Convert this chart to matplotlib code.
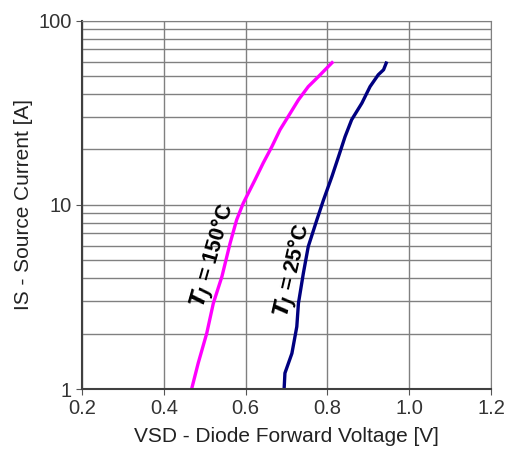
import matplotlib.pyplot as plt
import numpy as np

plt.rcParams['font.family'] = ['Liberation Sans', 'DejaVu Sans']

# T_J = 150 C curve
v_150 = [0.468, 0.484, 0.505, 0.521, 0.542, 0.562, 0.578, 0.594, 0.623, 0.643,
         0.664, 0.684, 0.704, 0.729, 0.753, 0.778, 0.798, 0.814]
i_150 = [1.0, 1.38, 2.01, 2.92, 4.08, 6.19, 8.29, 10.2, 13.7, 16.9,
         20.7, 25.6, 30.2, 37.2, 43.9, 49.8, 55.3, 60.1]

# T_J = 25 C curve
v_25 = [0.694, 0.696, 0.713, 0.725, 0.729, 0.741, 0.753, 0.774, 0.790, 0.811,
        0.827, 0.843, 0.859, 0.884, 0.904, 0.924, 0.937, 0.945]
i_25 = [1.0, 1.22, 1.56, 2.18, 2.92, 4.25, 5.94, 8.29, 10.6, 14.3,
        18.3, 23.5, 29.0, 35.7, 43.9, 50.9, 54.2, 60.1]

x_ticks = [0.2, 0.4, 0.6, 0.8, 1.0, 1.2]
x_labels = ['0.2', '0.4', '0.6', '0.8', '1.0', '1.2']
y_ticks = [1, 10, 100]
y_labels = ['1', '10', '100']

fig = plt.figure(figsize=(5.09, 4.62), dpi=100)
ax = fig.add_axes([0.161, 0.158, 0.804, 0.797])

ax.set_yscale('log')
ax.set_xlim(0.2, 1.2)
ax.set_ylim(1, 100)

ax.plot(v_150, i_150, color='#ff00ff', lw=2.4, solid_capstyle='butt')
ax.plot(v_25, i_25, color='#000080', lw=2.4, solid_capstyle='butt')

ax.set_xticks(x_ticks)
ax.set_xticklabels(x_labels)
ax.set_yticks(y_ticks)
ax.set_yticklabels(y_labels)
ax.yaxis.set_minor_locator(plt.LogLocator(base=10, subs=np.arange(2, 10)))
ax.yaxis.set_minor_formatter(plt.NullFormatter())
ax.tick_params(axis='y', which='minor', length=0)
ax.tick_params(axis='both', which='major', labelsize=14.5, length=4,
               color='#555555', labelcolor='#333333')

ax.grid(True, which='major', axis='both', color='#808080', lw=1.0)
ax.grid(True, which='minor', axis='y', color='#808080', lw=1.0)
ax.set_axisbelow(True)

for s in ['top', 'right']:
    ax.spines[s].set_color('#808080')
for s in ['left', 'bottom']:
    ax.spines[s].set_color('#404040')
    ax.spines[s].set_linewidth(1.5)

ax.set_xlabel('VSD - Diode Forward Voltage [V]', fontsize=15, labelpad=6,
              color='#222222')
ax.set_ylabel('IS - Source Current [A]', fontsize=15, labelpad=4,
              color='#222222')

ax.text(0.522, 5.3, r'$\mathbfit{T_J}$ = 150°C', rotation=74, fontsize=15.5,
        fontweight='bold', ha='center', va='center')
ax.text(0.716, 4.4, r'$\mathbfit{T_J}$ = 25°C', rotation=77, fontsize=15.5,
        fontweight='bold', ha='center', va='center')

fig.savefig('out.png', dpi=100)
